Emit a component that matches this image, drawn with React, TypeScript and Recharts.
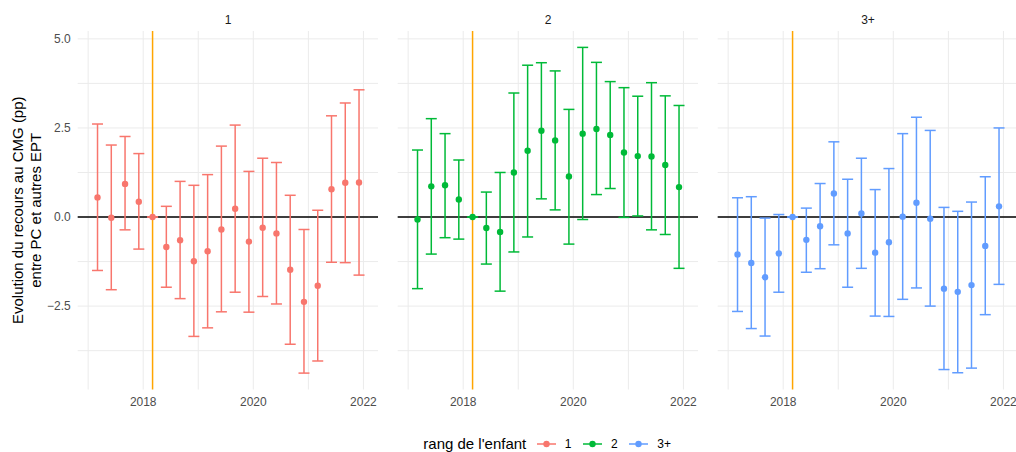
import {
  ComposedChart,
  Scatter,
  ErrorBar,
  XAxis,
  YAxis,
  ReferenceLine,
} from "recharts";

// quarter midpoints (decimal years)
const quarters = [
  2017.17, 2017.42, 2017.67, 2017.92, 2018.17, 2018.42, 2018.67, 2018.92,
  2019.17, 2019.42, 2019.67, 2019.92, 2020.17, 2020.42, 2020.67, 2020.92,
  2021.17, 2021.42, 2021.67, 2021.92,
];
const refQuarter = 2018.17;

const ranks = ["1", "2", "3+"];
const colors = ["#F8766D", "#00BA38", "#619CFF"];

// rang 1
const est1 = [0.55, -0.02, 0.93, 0.43, 0, -0.84, -0.65, -1.24, -0.96, -0.35, 0.23, -0.69, -0.3, -0.46, -1.48, -2.38, -1.93, 0.78, 0.96, 0.97];
const lo1 = [-1.5, -2.04, -0.36, -0.9, 0, -1.97, -2.29, -3.35, -3.11, -2.66, -2.11, -2.67, -2.23, -2.44, -3.57, -4.38, -4.04, -1.27, -1.28, -1.63];
const hi1 = [2.61, 2.02, 2.26, 1.78, 0, 0.3, 1.0, 0.89, 1.19, 1.99, 2.58, 1.28, 1.65, 1.53, 0.61, -0.35, 0.19, 2.84, 3.2, 3.57];

// rang 2
const est2 = [-0.07, 0.86, 0.89, 0.49, 0, -0.31, -0.42, 1.25, 1.86, 2.42, 2.15, 1.14, 2.34, 2.47, 2.3, 1.81, 1.71, 1.7, 1.46, 0.84];
const lo2 = [-2.01, -1.04, -0.58, -0.62, 0, -1.32, -2.08, -0.98, -0.56, 0.51, 0.2, -0.76, -0.07, 0.63, 0.8, -0.01, 0.03, -0.36, -0.49, -1.44];
const hi2 = [1.88, 2.76, 2.34, 1.6, 0, 0.7, 1.25, 3.48, 4.26, 4.33, 4.1, 3.02, 4.76, 4.34, 3.8, 3.63, 3.39, 3.77, 3.4, 3.13];

// rang 3+
const est3 = [-1.05, -1.29, -1.69, -1.02, 0, -0.64, -0.26, 0.66, -0.46, 0.1, -1.0, -0.71, 0.01, 0.4, -0.05, -2.01, -2.1, -1.91, -0.81, 0.3];
const lo3 = [-2.65, -3.13, -3.34, -2.11, 0, -1.55, -1.45, -0.78, -1.97, -1.44, -2.78, -2.79, -2.31, -1.99, -2.5, -4.28, -4.37, -4.24, -2.74, -1.89];
const hi3 = [0.54, 0.57, -0.03, 0.07, 0, 0.25, 0.94, 2.11, 1.06, 1.65, 0.77, 1.36, 2.34, 2.8, 2.43, 0.27, 0.16, 0.42, 1.13, 2.5];

const estimates = [est1, est2, est3];
const lows = [lo1, lo2, lo3];
const highs = [hi1, hi2, hi3];

const xTicks = [2017, 2018, 2019, 2020, 2021, 2022];
const xLabels = [2018, 2020, 2022];
const yTicks = [-3.75, -2.5, -1.25, 0, 1.25, 2.5, 3.75, 5];
const yLabels = [-2.5, 0, 2.5, 5];

const yTitle = ["Evolution du recours au CMG (pp)", "entre PC et autres EPT"];
const legendTitle = "rang de l'enfant";

const FONT = "'Liberation Sans', Arial, Helvetica, sans-serif";
const AXIS_W = 77.7;
const PANEL_W = 300.6;
const PANEL_STEP = 320;
const TOP = 31;
const BOTTOM = 389.5;
const H = 452;
const X_AXIS_H = 30;
const GRID = "#EBEBEB";

const fmtX = (v: number) => (xLabels.includes(v) ? String(v) : "");
const fmtY = (v: number) =>
  yLabels.includes(v) ? v.toFixed(1).replace("-", "\u2212") : "";

function Panel({ idx }: { idx: number }) {
  const color = colors[idx];
  const rows = quarters.map((t, i) => {
    const est = estimates[idx][i];
    return { t, est, err: [est - lows[idx][i], highs[idx][i] - est] };
  });

  return (
    <div style={{ position: "absolute", left: idx * PANEL_STEP, top: 0 }}>
      <ComposedChart
        width={AXIS_W + PANEL_W}
        height={H}
        data={rows}
        margin={{ top: TOP, right: 0, bottom: H - BOTTOM - X_AXIS_H, left: 0 }}
      >
        <XAxis
          type="number"
          dataKey="t"
          domain={[2016.81, 2022.27]}
          allowDataOverflow
          ticks={xTicks}
          interval={0}
          tickFormatter={fmtX}
          axisLine={false}
          tickLine={false}
          tickSize={0}
          tickMargin={8}
          height={X_AXIS_H}
          tick={{ fill: "#4D4D4D", fontSize: 12, fontFamily: FONT }}
        />
        <YAxis
          type="number"
          domain={[-4.84, 5.22]}
          allowDataOverflow
          ticks={yTicks}
          interval={0}
          tickFormatter={fmtY}
          width={AXIS_W}
          axisLine={false}
          tickLine={false}
          tickSize={0}
          tickMargin={7}
          tick={
            idx === 0
              ? { fill: "#4D4D4D", fontSize: 12, fontFamily: FONT }
              : false
          }
        />
        {/* panel grid */}
        {xTicks.map((v) => (
          <ReferenceLine key={`gx${v}`} x={v} stroke={GRID} strokeWidth={1} />
        ))}
        {yTicks.map((v) => (
          <ReferenceLine key={`gy${v}`} y={v} stroke={GRID} strokeWidth={1} />
        ))}
        <ReferenceLine x={refQuarter} stroke="#FFA500" strokeWidth={1.5} />
        <ReferenceLine y={0} stroke="#000000" strokeWidth={1.5} />
        <Scatter
          dataKey="est"
          isAnimationActive={false}
          shape={(p: any) => <circle cx={p.cx} cy={p.cy} r={3.2} fill={color} />}
        >
          <ErrorBar
            dataKey="err"
            direction="y"
            width={5.5}
            stroke={color}
            strokeWidth={1.5}
          />
        </Scatter>
      </ComposedChart>
      <div
        style={{
          position: "absolute",
          left: AXIS_W,
          width: PANEL_W,
          top: 13,
          lineHeight: "14px",
          textAlign: "center",
          fontFamily: FONT,
          fontSize: 12,
          color: "#1A1A1A",
        }}
      >
        {ranks[idx]}
      </div>
    </div>
  );
}

function Legend() {
  return (
    <>
      <div
        style={{
          position: "absolute",
          left: 423.3,
          top: 435,
          lineHeight: "18px",
          fontFamily: FONT,
          fontSize: 15,
          color: "#000",
          whiteSpace: "nowrap",
        }}
      >
        {legendTitle}
      </div>
      {ranks.map((r, i) => {
        const x0 = 536.7 + i * 46.3;
        return (
          <div key={r}>
            <svg
              width={20}
              height={12}
              style={{ position: "absolute", left: x0, top: 438 }}
            >
              <line x1={0} y1={6} x2={19} y2={6} stroke={colors[i]} strokeWidth={1.5} />
              <circle cx={9.5} cy={6} r={3.2} fill={colors[i]} />
            </svg>
            <div
              style={{
                position: "absolute",
                left: x0 + 28,
                top: 437,
                lineHeight: "14px",
                fontFamily: FONT,
                fontSize: 12,
                color: "#000",
                whiteSpace: "nowrap",
              }}
            >
              {r}
            </div>
          </div>
        );
      })}
    </>
  );
}

export default function App() {
  const midY = (TOP + BOTTOM) / 2;
  return (
    <div
      style={{
        position: "absolute",
        left: 0,
        top: 0,
        width: 1016,
        height: H,
        overflow: "hidden",
        background: "#FFFFFF",
      }}
    >
      {ranks.map((r, i) => (
        <Panel key={r} idx={i} />
      ))}
      <svg
        width={60}
        height={H}
        style={{ position: "absolute", left: 0, top: 0 }}
      >
        {yTitle.map((line, i) => {
          const x = 23 + i * 18.3;
          return (
            <text
              key={line}
              x={x}
              y={midY}
              transform={`rotate(-90, ${x}, ${midY})`}
              textAnchor="middle"
              fontFamily={FONT}
              fontSize={15}
              fill="#000"
            >
              {line}
            </text>
          );
        })}
      </svg>
      <Legend />
    </div>
  );
}
